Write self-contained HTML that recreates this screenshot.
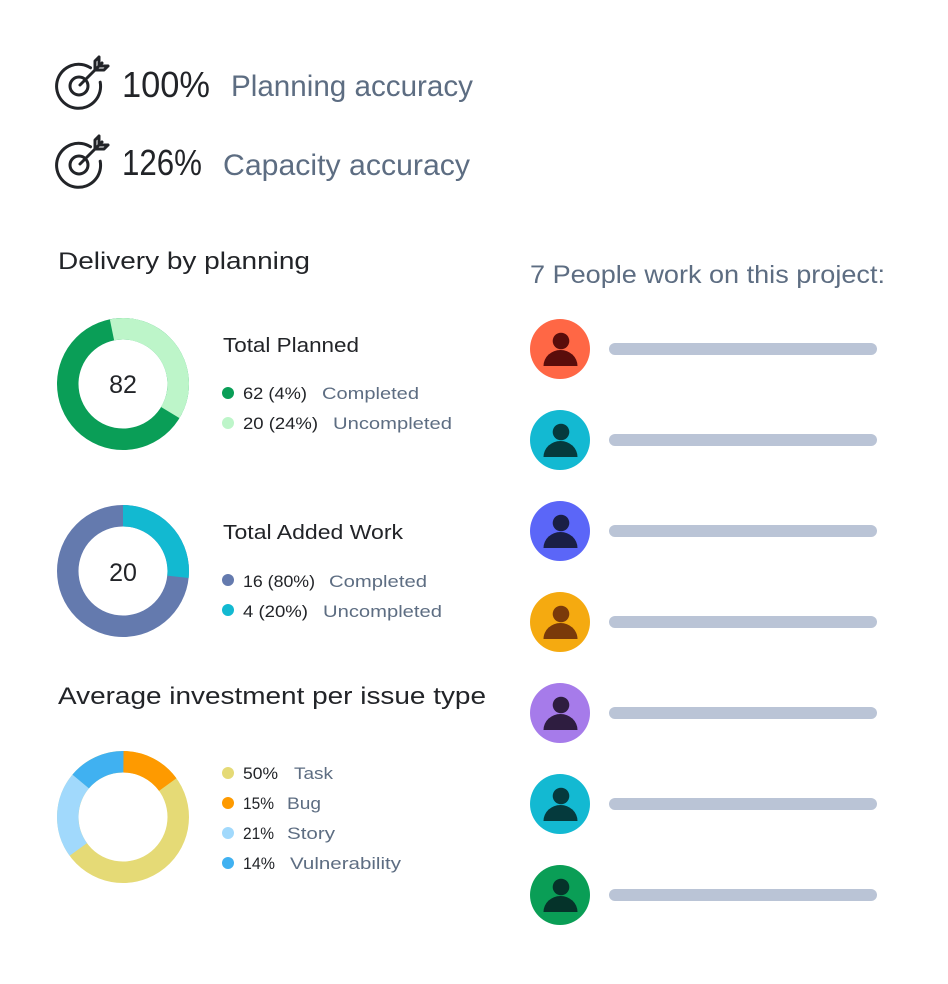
<!DOCTYPE html>
<html><head><meta charset="utf-8"><style>
html,body{margin:0;padding:0;background:#fff;}
svg{display:block;}
text{font-family:"Liberation Sans",sans-serif;}
.d{fill:#222428;}
.g{fill:#5d6d82;}
</style></head><body>
<svg width="948" height="984" viewBox="0 0 948 984" xmlns="http://www.w3.org/2000/svg">
<rect width="948" height="984" fill="#fff"/>
<!-- target icons -->
<g fill="none" stroke="#222428" stroke-width="3" stroke-linecap="round" stroke-linejoin="round">
  <g>
    <path d="M90.5 67.8 A22 22 0 1 0 100.2 82.2"/>
    <circle cx="79" cy="86" r="9"/>
    <path d="M80 85 L102 63"/>
    <path d="M95 70 V61 L99 57 M95 70 H104 L108 66 M99 66 V57 M99 66 H108"/>
  </g>
  <g transform="translate(0,79)">
    <path d="M90.5 67.8 A22 22 0 1 0 100.2 82.2"/>
    <circle cx="79" cy="86" r="9"/>
    <path d="M80 85 L102 63"/>
    <path d="M95 70 V61 L99 57 M95 70 H104 L108 66 M99 66 V57 M99 66 H108"/>
  </g>
</g>
<text class="d" x="122" y="97" font-size="36" textLength="88" lengthAdjust="spacingAndGlyphs">100%</text>
<text class="g" x="231" y="96" font-size="30" textLength="242" lengthAdjust="spacingAndGlyphs">Planning accuracy</text>
<text class="d" x="122" y="175" font-size="36" textLength="80" lengthAdjust="spacingAndGlyphs">126%</text>
<text class="g" x="223" y="175" font-size="30" textLength="247" lengthAdjust="spacingAndGlyphs">Capacity accuracy</text>

<text class="d" x="58" y="269" font-size="24" textLength="252" lengthAdjust="spacingAndGlyphs">Delivery by planning</text>
<text class="g" x="530" y="283" font-size="25" textLength="355" lengthAdjust="spacingAndGlyphs">7 People work on this project:</text>

<!-- donut 1 -->
<g fill="none" stroke-width="21.5">
  <circle cx="123" cy="384" r="55.25" stroke="#0a9e57"/>
  <circle cx="123" cy="384" r="55.25" stroke="#bdf5c9" stroke-dasharray="127.8 400" transform="rotate(-101.5 123 384)"/>
</g>
<text class="d" x="123" y="393" font-size="25" text-anchor="middle">82</text>
<text class="d" x="223" y="352" font-size="20" textLength="136" lengthAdjust="spacingAndGlyphs">Total Planned</text>
<circle cx="228" cy="393" r="6" fill="#0a9e57"/>
<text class="d" x="243" y="399" font-size="17" textLength="64" lengthAdjust="spacingAndGlyphs">62 (4%)</text>
<text class="g" x="322" y="399" font-size="17" textLength="97" lengthAdjust="spacingAndGlyphs">Completed</text>
<circle cx="228" cy="423" r="6" fill="#bdf5c9"/>
<text class="d" x="243" y="429" font-size="17" textLength="75" lengthAdjust="spacingAndGlyphs">20 (24%)</text>
<text class="g" x="333" y="429" font-size="17" textLength="119" lengthAdjust="spacingAndGlyphs">Uncompleted</text>

<!-- donut 2 -->
<g fill="none" stroke-width="21.5">
  <circle cx="123" cy="571" r="55.25" stroke="#647aae"/>
  <circle cx="123" cy="571" r="55.25" stroke="#12b9d1" stroke-dasharray="92.6 400" transform="rotate(-90 123 571)"/>
</g>
<text class="d" x="123" y="581" font-size="25" text-anchor="middle">20</text>
<text class="d" x="223" y="539" font-size="20" textLength="180" lengthAdjust="spacingAndGlyphs">Total Added Work</text>
<circle cx="228" cy="580" r="6" fill="#647aae"/>
<text class="d" x="243" y="587" font-size="17" textLength="72" lengthAdjust="spacingAndGlyphs">16 (80%)</text>
<text class="g" x="329" y="587" font-size="17" textLength="98" lengthAdjust="spacingAndGlyphs">Completed</text>
<circle cx="228" cy="610" r="6" fill="#12b9d1"/>
<text class="d" x="243" y="617" font-size="17" textLength="65" lengthAdjust="spacingAndGlyphs">4 (20%)</text>
<text class="g" x="323" y="617" font-size="17" textLength="119" lengthAdjust="spacingAndGlyphs">Uncompleted</text>

<text class="d" x="58" y="704" font-size="24" textLength="428" lengthAdjust="spacingAndGlyphs">Average investment per issue type</text>

<!-- donut 3 -->
<g fill="none" stroke-width="21.5">
  <circle cx="123" cy="817" r="55.25" stroke="#e5da76"/>
  <circle cx="123" cy="817" r="55.25" stroke="#fe9a00" stroke-dasharray="52.07 400" transform="rotate(-90 123 817)"/>
  <circle cx="123" cy="817" r="55.25" stroke="#a1d9fc" stroke-dasharray="73.3 400" transform="rotate(144 123 817)"/>
  <circle cx="123" cy="817" r="55.25" stroke="#40b1f1" stroke-dasharray="48.6 400" transform="rotate(220 123 817)"/>
</g>
<circle cx="228" cy="773" r="6" fill="#e5da76"/>
<text class="d" x="243" y="779" font-size="17" textLength="35" lengthAdjust="spacingAndGlyphs">50%</text>
<text class="g" x="294" y="779" font-size="17" textLength="39" lengthAdjust="spacingAndGlyphs">Task</text>
<circle cx="228" cy="803" r="6" fill="#fe9a00"/>
<text class="d" x="243" y="809" font-size="17" textLength="31" lengthAdjust="spacingAndGlyphs">15%</text>
<text class="g" x="287" y="809" font-size="17" textLength="34" lengthAdjust="spacingAndGlyphs">Bug</text>
<circle cx="228" cy="833" r="6" fill="#a1d9fc"/>
<text class="d" x="243" y="839" font-size="17" textLength="31" lengthAdjust="spacingAndGlyphs">21%</text>
<text class="g" x="287" y="839" font-size="17" textLength="48" lengthAdjust="spacingAndGlyphs">Story</text>
<circle cx="228" cy="863" r="6" fill="#40b1f1"/>
<text class="d" x="243" y="869" font-size="17" textLength="32" lengthAdjust="spacingAndGlyphs">14%</text>
<text class="g" x="290" y="869" font-size="17" textLength="111" lengthAdjust="spacingAndGlyphs">Vulnerability</text>

<!-- people -->
<g>
  <g transform="translate(0,0)">
    <circle cx="560" cy="349" r="30" fill="#ff6745"/>
    <circle cx="561" cy="341" r="8.3" fill="#5a0d0b"/>
    <path d="M543.5 366 A17 16 0 0 1 577.5 366 Z" fill="#5a0d0b"/>
    <rect x="609" y="343" width="268" height="12" rx="6" fill="#bac4d6"/>
  </g>
  <g transform="translate(0,91)">
    <circle cx="560" cy="349" r="30" fill="#13b9d2"/>
    <circle cx="561" cy="341" r="8.3" fill="#053a3d"/>
    <path d="M543.5 366 A17 16 0 0 1 577.5 366 Z" fill="#053a3d"/>
    <rect x="609" y="343" width="268" height="12" rx="6" fill="#bac4d6"/>
  </g>
  <g transform="translate(0,182)">
    <circle cx="560" cy="349" r="30" fill="#5b66f8"/>
    <circle cx="561" cy="341" r="8.3" fill="#1a1f45"/>
    <path d="M543.5 366 A17 16 0 0 1 577.5 366 Z" fill="#1a1f45"/>
    <rect x="609" y="343" width="268" height="12" rx="6" fill="#bac4d6"/>
  </g>
  <g transform="translate(0,273)">
    <circle cx="560" cy="349" r="30" fill="#f5aa10"/>
    <circle cx="561" cy="341" r="8.3" fill="#7a3a0a"/>
    <path d="M543.5 366 A17 16 0 0 1 577.5 366 Z" fill="#7a3a0a"/>
    <rect x="609" y="343" width="268" height="12" rx="6" fill="#bac4d6"/>
  </g>
  <g transform="translate(0,364)">
    <circle cx="560" cy="349" r="30" fill="#a67bea"/>
    <circle cx="561" cy="341" r="8.3" fill="#2e1d40"/>
    <path d="M543.5 366 A17 16 0 0 1 577.5 366 Z" fill="#2e1d40"/>
    <rect x="609" y="343" width="268" height="12" rx="6" fill="#bac4d6"/>
  </g>
  <g transform="translate(0,455)">
    <circle cx="560" cy="349" r="30" fill="#13b9d2"/>
    <circle cx="561" cy="341" r="8.3" fill="#053a3d"/>
    <path d="M543.5 366 A17 16 0 0 1 577.5 366 Z" fill="#053a3d"/>
    <rect x="609" y="343" width="268" height="12" rx="6" fill="#bac4d6"/>
  </g>
  <g transform="translate(0,546)">
    <circle cx="560" cy="349" r="30" fill="#0a9e56"/>
    <circle cx="561" cy="341" r="8.3" fill="#05332a"/>
    <path d="M543.5 366 A17 16 0 0 1 577.5 366 Z" fill="#05332a"/>
    <rect x="609" y="343" width="268" height="12" rx="6" fill="#bac4d6"/>
  </g>
</g>
</svg>
</body></html>
